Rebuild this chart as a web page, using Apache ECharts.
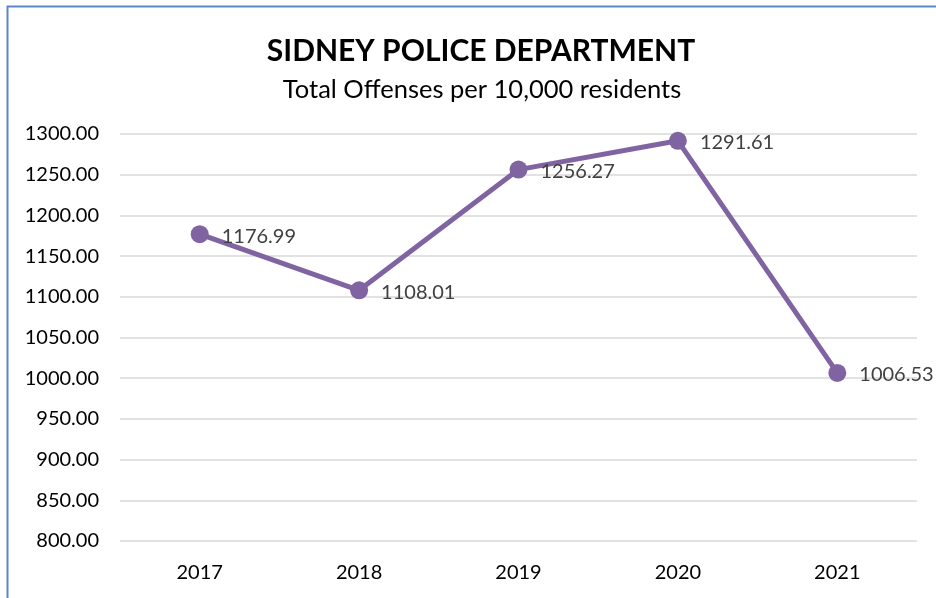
<!DOCTYPE html>
<html><head><meta charset="utf-8">
<script src="https://cdn.jsdelivr.net/npm/echarts@6/dist/echarts.min.js"></script>
<style>html,body{margin:0;padding:0;background:#fff;}#c{width:936px;height:598px;}</style>
</head><body><div id="c"></div>
<script>
const categories = ['2017','2018','2019','2020','2021'];
const offenses = [1176.99, 1108.01, 1256.27, 1291.61, 1006.53];
const yMin = 800, yMax = 1300, yStep = 50;
const titleText = 'SIDNEY POLICE DEPARTMENT';
const subtitleText = 'Total Offenses per 10,000 residents';

const FONT = 'Lato, "Open Sans", sans-serif';
const chart = echarts.init(document.getElementById('c'));
chart.setOption({
  animation: false,
  backgroundColor: '#fff',
  graphic: [{
    type: 'rect', shape: {x: 7.5, y: 6.5, width: 1000, height: 700},
    style: {fill: 'none', stroke: '#5B87C4', lineWidth: 2}, silent: true
  }],
  title: [{
    text: titleText, left: 476, top: 31, textAlign: 'center',
    textStyle: {fontFamily: FONT, fontSize: 30, fontWeight: 'bold', color: '#000'}
  }, {
    text: subtitleText, left: 477, top: 72, textAlign: 'center',
    textStyle: {fontFamily: FONT, fontSize: 25.5, fontWeight: 'normal', color: '#000'}
  }],
  grid: {left: 120, right: 19, top: 134, bottom: 57},
  xAxis: {
    type: 'category', data: categories, boundaryGap: true,
    axisLine: {show: false}, axisTick: {show: false},
    axisLabel: {fontFamily: FONT, fontSize: 20, color: '#000', margin: 22}
  },
  yAxis: {
    type: 'value', min: yMin, max: yMax, interval: yStep,
    axisLine: {show: false}, axisTick: {show: false},
    splitLine: {lineStyle: {color: '#d9d9d9', width: 1.5}},
    axisLabel: {fontFamily: FONT, fontSize: 20, color: '#000', margin: 21,
      formatter: v => v.toFixed(2)}
  },
  series: [{
    type: 'line', data: offenses,
    lineStyle: {color: '#8064A2', width: 5},
    itemStyle: {color: '#8064A2'},
    symbol: 'circle', symbolSize: 18,
    label: {show: true, position: 'right', distance: 13, offset: [0, 2],
      fontFamily: FONT, fontSize: 20, color: '#404040',
      formatter: p => p.value.toFixed(2)}
  }]
});
</script></body></html>
